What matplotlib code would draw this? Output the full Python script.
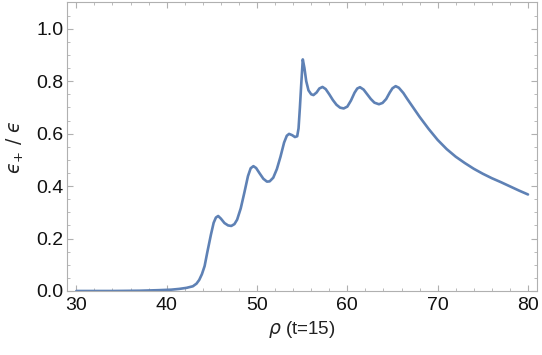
import matplotlib
matplotlib.use("Agg")
import matplotlib.pyplot as plt
from matplotlib.ticker import MultipleLocator

rho = [30.0, 34.0, 37.0, 39.0, 40.5, 41.4, 42.2, 42.9, 43.3, 43.6, 43.9, 44.2, 44.5, 44.9,
       45.2, 45.45, 45.7, 46.0, 46.4, 46.8, 47.15, 47.5, 47.8, 48.2, 48.6, 49.0, 49.3, 49.6,
       49.9, 50.3, 50.7, 51.1, 51.4, 51.8, 52.2, 52.6, 53.0, 53.3, 53.55, 53.9, 54.2, 54.45,
       54.6, 54.75, 54.9, 55.07, 55.25, 55.45, 55.7, 56.0, 56.25, 56.6, 56.9, 57.25, 57.6,
       58.0, 58.4, 58.8, 59.2, 59.6, 60.0, 60.4, 60.8, 61.1, 61.4, 61.8, 62.2, 62.6, 63.0,
       63.5, 63.9, 64.3, 64.7, 65.0, 65.35, 65.7, 66.2, 66.6, 67.2, 68.0, 69.0, 70.0,
       71.0, 72.0, 73.0, 74.0, 75.0, 76.0, 77.0, 78.0, 79.0, 80.0]
ratio = [0.000, 0.000, 0.001, 0.003, 0.005, 0.008, 0.012, 0.018, 0.028, 0.042, 0.064, 0.095,
         0.148, 0.215, 0.260, 0.280, 0.286, 0.276, 0.259, 0.250, 0.248, 0.255, 0.272, 0.315,
         0.375, 0.438, 0.468, 0.476, 0.469, 0.448, 0.428, 0.417, 0.418, 0.432, 0.465, 0.512,
         0.566, 0.592, 0.599, 0.594, 0.587, 0.590, 0.620, 0.700, 0.790, 0.883, 0.850, 0.800,
         0.765, 0.750, 0.747, 0.757, 0.772, 0.778, 0.770, 0.750, 0.728, 0.710, 0.699, 0.696,
         0.703, 0.726, 0.756, 0.772, 0.777, 0.768, 0.750, 0.732, 0.718, 0.712, 0.717, 0.732,
         0.757, 0.773, 0.781, 0.775, 0.755, 0.734, 0.704, 0.664, 0.618, 0.576, 0.541,
         0.512, 0.488, 0.466, 0.447, 0.430, 0.415, 0.399, 0.383, 0.368]

xlabel = r"$\rho$ (t=15)"
ylabel = "$\u03f5_{+}\\ /\\ \u03f5$"

plt.rcParams['font.family'] = ['Liberation Sans', 'DejaVu Sans']
plt.rcParams['mathtext.fontset'] = 'dejavusans'

fig = plt.figure(figsize=(5.42, 3.55), dpi=100)
ax = fig.add_axes([0.1242, 0.1803, 0.9908 - 0.1242, 0.993 - 0.1803])

ax.plot(rho, ratio, color='#5E81B5', lw=1.9, solid_capstyle='round', solid_joinstyle='round')

ax.set_xlim(29, 81)
ax.set_ylim(0, 1.1)
ax.xaxis.set_major_locator(MultipleLocator(10))
ax.xaxis.set_minor_locator(MultipleLocator(2))
ax.yaxis.set_major_locator(MultipleLocator(0.2))
ax.yaxis.set_minor_locator(MultipleLocator(0.05))
ax.set_yticks([0, 0.2, 0.4, 0.6, 0.8, 1.0])
ax.set_yticklabels(['0.0', '0.2', '0.4', '0.6', '0.8', '1.0'])

for s in ax.spines.values():
    s.set_color('#b0b0b0')
    s.set_linewidth(0.8)

ax.tick_params(which='both', direction='in', top=True, right=True, color='#b0b0b0',
               labelcolor='#111111', labelsize=14)
ax.tick_params(which='major', length=4, width=0.8, pad=4)
ax.tick_params(which='minor', length=2.2, width=0.6)
ax.tick_params(axis='y', which='major', pad=3)

ax.set_xlabel(xlabel, fontsize=13.5, color='#222222', labelpad=4)
ax.set_ylabel(ylabel, fontsize=13.5, color='#222222', labelpad=7)

fig.savefig('out.png', dpi=100)
